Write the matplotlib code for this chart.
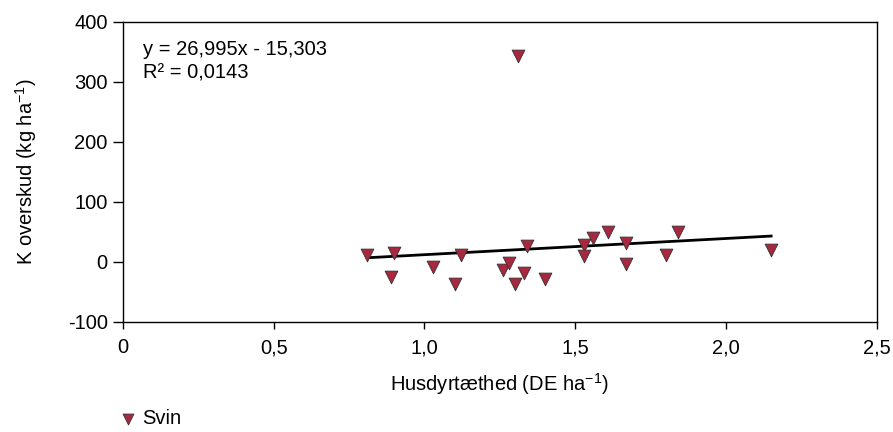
import matplotlib
matplotlib.use("Agg")
import matplotlib.pyplot as plt
import numpy as np

plt.rcParams['font.family'] = ['Liberation Sans', 'DejaVu Sans']
plt.rcParams['axes.unicode_minus'] = False
plt.rcParams['mathtext.fontset'] = 'custom'
plt.rcParams['mathtext.rm'] = 'Liberation Sans'

# Data
husdyr = [0.81, 0.89, 0.90, 1.03, 1.10, 1.12, 1.26, 1.28, 1.30, 1.31, 1.33, 1.34,
          1.40, 1.53, 1.53, 1.56, 1.61, 1.67, 1.67, 1.80, 1.84, 2.15]
k_overskud = [12, -26, 14, -9, -37, 11, -13, -2, -37, 343, -19, 27,
              -29, 28, 10, 39, 50, 31, -4, 11, 49, 19]
slope = 26.995
intercept = -15.303
eq_label = "y = 26,995x - 15,303"
r2_label = "R² = 0,0143"
series_name = "Svin"
xticks = [0, 0.5, 1.0, 1.5, 2.0, 2.5]
xticklabels = ["0", "0,5", "1,0", "1,5", "2,0", "2,5"]
yticks = [-100, 0, 100, 200, 300, 400]

FS = 14.5

fig = plt.figure(figsize=(8.93, 4.32), dpi=100)
ax = fig.add_axes([0.1377, 0.2553, 0.8440, 0.6945])

ax.scatter(husdyr, k_overskud, marker='v', s=85, color='#A8283F',
           edgecolors='#333333', linewidths=0.6, zorder=3, label=series_name)

xl = np.array([min(husdyr), max(husdyr)])
ax.plot(xl, slope * xl + intercept, color='black', lw=2, zorder=2)

ax.set_xlim(0, 2.5)
ax.set_ylim(-100, 400)
ax.set_xticks(xticks)
ax.set_xticklabels(xticklabels)
ax.set_yticks(yticks)
ax.tick_params(axis='y', direction='out', length=7, width=1, labelsize=FS, colors='black', pad=4)
ax.tick_params(axis='x', direction='out', length=5, width=1, labelsize=FS, colors='black', pad=7)
for s in ax.spines.values():
    s.set_linewidth(1)

ax.set_xlabel(r"Husdyrtæthed (DE ha$^{\mathregular{-1}}$)", fontsize=FS, labelpad=10)
ax.set_ylabel(r"K overskud (kg ha$^{\mathregular{-1}}$)", fontsize=FS, labelpad=21)

ax.text(0.026, 0.94, eq_label + "\n" + r2_label, transform=ax.transAxes,
        fontsize=FS, va='top', ha='left', linespacing=1.35)

leg = fig.legend(loc='center left', bbox_to_anchor=(117.6 / 893, 1 - 419 / 432),
                 frameon=False, fontsize=FS, handlelength=1.0, handletextpad=0.2,
                 markerscale=0.85, borderaxespad=0, borderpad=0)

fig.savefig("out.png", dpi=100)
